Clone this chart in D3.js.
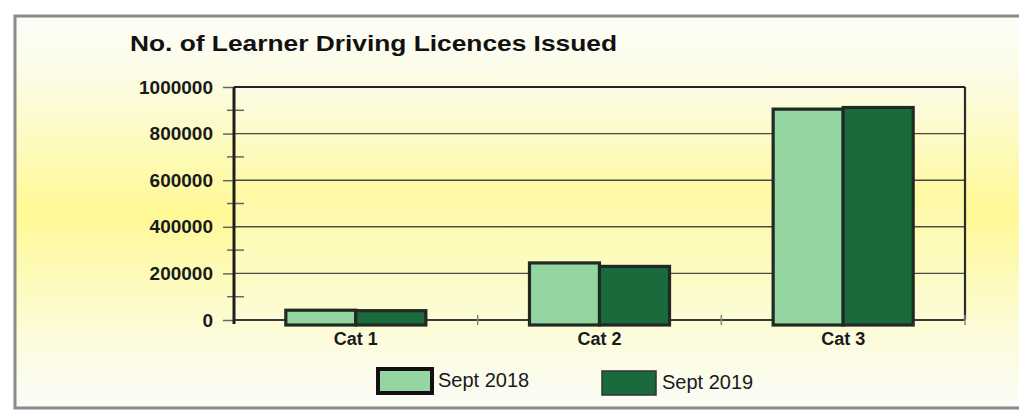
<!DOCTYPE html>
<html>
<head>
<meta charset="utf-8">
<script src="https://cdn.jsdelivr.net/npm/d3@7"></script>
<style>
  html, body { margin: 0; padding: 0; background: #ffffff; }
  svg { display: block; }
  text { font-family: "Liberation Sans", Arial, sans-serif; }
</style>
</head>
<body>
<svg id="chart" width="1019" height="412"></svg>
<script>
// ---- data ----
const categories = ["Cat 1", "Cat 2", "Cat 3"];
const seriesNames = ["Sept 2018", "Sept 2019"];
const sept2018 = [42000, 245000, 905000];
const sept2019 = [40000, 230000, 912000];
const yTickValues = [0, 200000, 400000, 600000, 800000, 1000000];
const yTickLabels = ["0", "200000", "400000", "600000", "800000", "1000000"];
const titleText = "No. of Learner Driving Licences Issued";

const seriesValues = [sept2018, sept2019];
const colors = ["#95d5a2", "#1b6a3c"];

const svg = d3.select("#chart");
const W = 1019, H = 412;
const plot = { left: 234, right: 965, top: 87, bottom: 320 };

// ---- background gradients ----
const defs = svg.append("defs");
const bg = defs.append("linearGradient").attr("id", "bg").attr("x1", 0).attr("y1", 0).attr("x2", 0).attr("y2", 1);
bg.append("stop").attr("offset", "0%").attr("stop-color", "#fdfdf9");
bg.append("stop").attr("offset", "14%").attr("stop-color", "#fcfce8");
bg.append("stop").attr("offset", "50%").attr("stop-color", "#fff995");
bg.append("stop").attr("offset", "82%").attr("stop-color", "#fcfcdc");
bg.append("stop").attr("offset", "100%").attr("stop-color", "#fbfcf8");

const pg = defs.append("linearGradient").attr("id", "pg").attr("x1", 0).attr("y1", 0).attr("x2", 0).attr("y2", 1);
pg.append("stop").attr("offset", "0%").attr("stop-color", "#fcfce6");
pg.append("stop").attr("offset", "45%").attr("stop-color", "#fff9a4");
pg.append("stop").attr("offset", "100%").attr("stop-color", "#fcfcd6");

// outer frame
svg.append("rect").attr("x", 15).attr("y", 16).attr("width", W + 10).attr("height", 392)
  .attr("fill", "url(#bg)").attr("stroke", "#8a8a8a").attr("stroke-width", 3);

// ---- scales ----
const y = d3.scaleLinear().domain([0, 1000000]).range([plot.bottom, plot.top]);
const x0 = d3.scaleBand().domain(categories).range([plot.left, plot.right]).padding(0);
const x1 = d3.scaleBand().domain(seriesNames).range([0, x0.bandwidth()]).paddingInner(0).paddingOuter(0.74);

// plot area fill
svg.append("rect").attr("x", plot.left).attr("y", plot.top)
  .attr("width", plot.right - plot.left).attr("height", plot.bottom - plot.top)
  .attr("fill", "url(#pg)");

// gridlines
svg.append("g").selectAll("line").data(yTickValues.filter(v => v > 0)).join("line")
  .attr("x1", plot.left).attr("x2", plot.right)
  .attr("y1", d => y(d)).attr("y2", d => y(d))
  .attr("stroke", d => d === 1000000 ? "#222" : "#4a4a4a")
  .attr("stroke-width", d => d === 1000000 ? 2 : 1.4);

// right border
svg.append("line").attr("x1", plot.right).attr("x2", plot.right)
  .attr("y1", plot.top).attr("y2", plot.bottom)
  .attr("stroke", "#2a2a2a").attr("stroke-width", 2.2);

// y axis via d3
const yAxis = d3.axisLeft(y).tickValues(yTickValues)
  .tickFormat((d, i) => yTickLabels[i]).tickSize(11).tickPadding(10);
const gy = svg.append("g").attr("transform", `translate(${plot.left},0)`).call(yAxis);
gy.select(".domain").remove();
gy.selectAll(".tick line").attr("stroke", "#666").attr("stroke-width", 1.5);
gy.selectAll(".tick text").attr("fill", "#1a1a1a")
  .style("font-size", "19px").style("font-weight", "bold")
  .style("font-family", "'Liberation Sans', Arial, sans-serif");

// minor ticks crossing axis
const minor = d3.range(100000, 1000000, 200000);
svg.append("g").selectAll("line").data(minor).join("line")
  .attr("x1", plot.left - 7).attr("x2", plot.left + 10)
  .attr("y1", d => y(d)).attr("y2", d => y(d))
  .attr("stroke", "#666").attr("stroke-width", 1.5);

// x baseline
svg.append("line").attr("x1", plot.left).attr("x2", plot.right)
  .attr("y1", y(0)).attr("y2", y(0))
  .attr("stroke", "#3a3a3a").attr("stroke-width", 2);
// x ticks at category boundaries
const bounds = categories.map(c => x0(c) + x0.bandwidth());
svg.append("g").selectAll("line").data(bounds).join("line")
  .attr("x1", d => d).attr("x2", d => d)
  .attr("y1", y(0) - 5).attr("y2", y(0) + 5)
  .attr("stroke", "#888").attr("stroke-width", 1.5);

// y axis line
svg.append("line").attr("x1", plot.left).attr("x2", plot.left)
  .attr("y1", plot.top).attr("y2", y(0) + 4)
  .attr("stroke", "#1e1e1e").attr("stroke-width", 3);

// bars
const groups = svg.append("g").selectAll("g").data(categories).join("g")
  .attr("transform", d => `translate(${x0(d)},0)`);
groups.selectAll("rect").data((c, ci) => seriesNames.map((s, si) => ({ s, si, v: seriesValues[si][ci] })))
  .join("rect")
  .attr("x", d => x1(d.s))
  .attr("width", x1.bandwidth())
  .attr("y", d => y(d.v))
  .attr("height", d => y(0) - y(d.v) + 5)
  .attr("fill", d => colors[d.si])
  .attr("stroke", "#1f2a22").attr("stroke-width", 3.2);

// category labels
svg.append("g").selectAll("text").data(categories).join("text")
  .attr("x", d => x0(d) + x0.bandwidth() / 2)
  .attr("y", 345)
  .attr("text-anchor", "middle")
  .attr("fill", "#1a1a1a")
  .style("font-size", "18px").style("font-weight", "bold")
  .text(d => d);

// title
svg.append("text").attr("x", 130).attr("y", 51)
  .attr("fill", "#111")
  .attr("textLength", 487).attr("lengthAdjust", "spacingAndGlyphs")
  .style("font-size", "22px").style("font-weight", "bold")
  .text(titleText);

// legend
const legendX = [378, 602];
const lg = svg.append("g").selectAll("g").data(seriesNames).join("g")
  .attr("transform", (d, i) => `translate(${legendX[i]},${369 + i * 2})`);
lg.append("rect").attr("width", 54).attr("height", 24)
  .attr("fill", (d, i) => colors[i])
  .attr("stroke", (d, i) => i === 0 ? "#111" : "#333")
  .attr("stroke-width", (d, i) => i === 0 ? 4 : 1.5);
lg.append("text").attr("x", 60).attr("y", 18)
  .attr("fill", "#1a1a1a")
  .style("font-size", "20px")
  .text(d => d);
</script>
</body>
</html>
